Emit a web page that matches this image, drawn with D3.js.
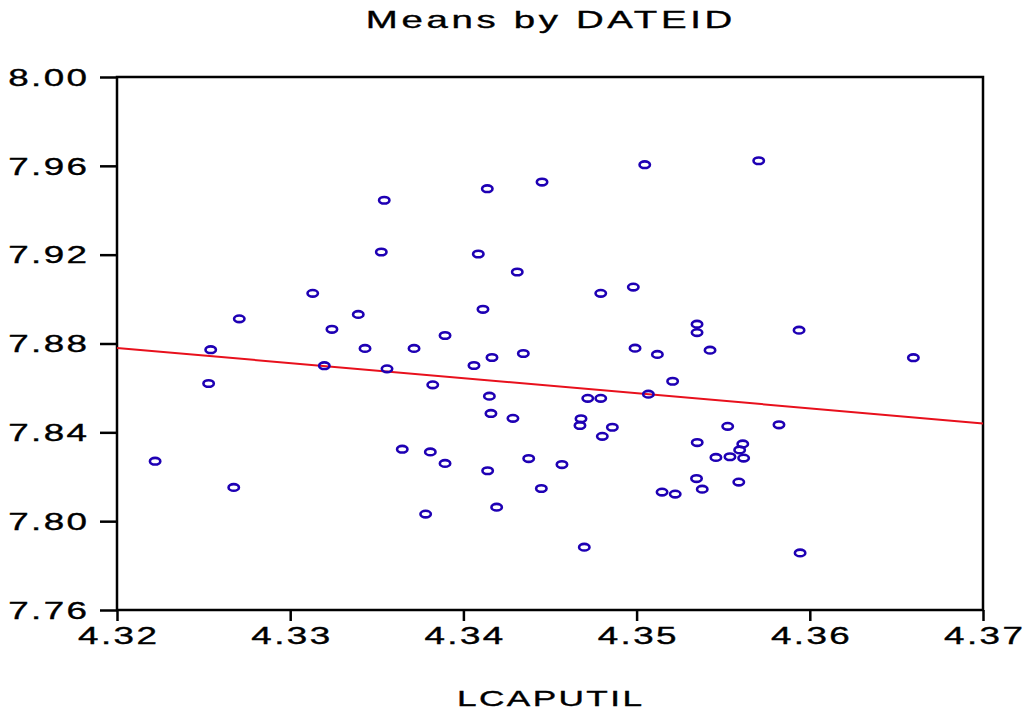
<!DOCTYPE html>
<html>
<head>
<meta charset="utf-8">
<script src="https://cdn.jsdelivr.net/npm/d3@7"></script>
<style>
  html, body { margin: 0; padding: 0; background: #ffffff; }
  svg { display: block; }
  text { font-family: "Liberation Sans", Arial, sans-serif; fill: #000; stroke: #000; stroke-width: 0.35px; }
</style>
</head>
<body>
<script>
// Group means of LCAPUTIL (x) and the response (y), one point per DATEID
const lcaputil = [
  4.3222, 4.32541, 4.32529, 4.32674, 4.32706, 4.33130, 4.33197, 4.33241, 4.33393, 4.33432,
  4.33543, 4.33526, 4.33559, 4.33647, 4.33715, 4.33782, 4.33809, 4.33823, 4.33894, 4.33894,
  4.34061, 4.34086, 4.34113, 4.34138, 4.34150, 4.34159, 4.34165, 4.34140, 4.34192, 4.34286,
  4.34311, 4.34346, 4.34377, 4.34454, 4.34450, 4.34569, 4.34679, 4.34673, 4.34698, 4.34718,
  4.34793, 4.34793, 4.34802, 4.34860, 4.34981, 4.34991, 4.35047, 4.35068, 4.35120, 4.35147,
  4.35208, 4.35223, 4.35349, 4.35349, 4.35350, 4.35346, 4.35379, 4.35424, 4.35458, 4.35526,
  4.35539, 4.35613, 4.35595, 4.35590, 4.35618, 4.35705, 4.35822, 4.35938, 4.35944, 4.36598
];
const meanValue = [
  7.8270, 7.8772, 7.8620, 7.8152, 7.8911, 7.9026, 7.8700, 7.8864, 7.8931, 7.8778,
  7.9445, 7.9212, 7.8686, 7.8324, 7.8778, 7.8032, 7.8312, 7.8614, 7.8836, 7.8260,
  7.8701, 7.9203, 7.8954, 7.9497, 7.8563, 7.8485, 7.8737, 7.8227, 7.8063, 7.8463,
  7.9122, 7.8755, 7.8282, 7.9527, 7.8147, 7.8255, 7.8461, 7.8431, 7.7883, 7.8553,
  7.9026, 7.8553, 7.8382, 7.8423, 7.9054, 7.8779, 7.9605, 7.8572, 7.8751, 7.8131,
  7.8630, 7.8122, 7.8887, 7.8849, 7.8354, 7.8192, 7.8144, 7.8770, 7.8287, 7.8427,
  7.8290, 7.8348, 7.8321, 7.8176, 7.8284, 7.9623, 7.8434, 7.8860, 7.7857, 7.8736
];

// Least-squares fit line, evaluated at the ends of the x range
const fitX = [4.32, 4.37];
const fitY = [7.878, 7.844];

const xTicks = [4.32, 4.33, 4.34, 4.35, 4.36, 4.37];
const yTicks = [7.76, 7.80, 7.84, 7.88, 7.92, 7.96, 8.00];

const titleText = "Means by DATEID";
const xLabelText = "LCAPUTIL";

const W = 1026, H = 715;
const plotLeft = 117, plotRight = 983, plotTop = 77, plotBottom = 610;
const SX = 1.6;          // horizontal stretch of the lettering

const svg = d3.select("body").append("svg")
  .attr("width", W).attr("height", H);

const x = d3.scaleLinear().domain([4.32, 4.37]).range([plotLeft, plotRight]);
const y = d3.scaleLinear().domain([7.76, 8.00]).range([plotBottom, plotTop]);

// stretched, spaced lettering
function styleText(sel, size, spacing) {
  sel.style("font-size", size + "px")
     .style("letter-spacing", spacing + "px");
}

// frame
svg.append("rect")
  .attr("x", plotLeft).attr("y", plotTop)
  .attr("width", plotRight - plotLeft).attr("height", plotBottom - plotTop)
  .attr("fill", "none").attr("stroke", "#000").attr("stroke-width", 2.5);

// y axis
const yAxis = svg.append("g")
  .attr("transform", `translate(${plotLeft},0)`)
  .call(d3.axisLeft(y).tickValues(yTicks).tickSize(17).tickPadding(0)
        .tickFormat(d3.format(".2f")));
yAxis.select(".domain").remove();
yAxis.selectAll(".tick line").attr("stroke", "#000").attr("stroke-width", 2.5);
yAxis.selectAll(".tick text")
  .attr("x", -30 / SX).attr("dx", 1.5).attr("dy", "0.36em")
  .attr("transform", `scale(${SX},1)`)
  .call(styleText, 23, 1.5);

// x axis
const xAxis = svg.append("g")
  .attr("transform", `translate(0,${plotBottom})`)
  .call(d3.axisBottom(x).tickValues(xTicks).tickSize(11).tickPadding(0)
        .tickFormat(d3.format(".2f")));
xAxis.select(".domain").remove();
xAxis.selectAll(".tick line").attr("stroke", "#000").attr("stroke-width", 2.5);
xAxis.selectAll(".tick text")
  .attr("y", 34).attr("dy", 0).attr("dx", 0.75)
  .attr("transform", `scale(${SX},1)`)
  .call(styleText, 23, 1.5);

// fitted line
svg.append("line")
  .attr("x1", x(fitX[0])).attr("y1", y(fitY[0]))
  .attr("x2", x(fitX[1])).attr("y2", y(fitY[1]))
  .attr("stroke", "#e8101c").attr("stroke-width", 2);

// points
svg.append("g").selectAll("ellipse")
  .data(d3.zip(lcaputil, meanValue))
  .join("ellipse")
  .attr("cx", d => x(d[0])).attr("cy", d => y(d[1]))
  .attr("rx", 5.2).attr("ry", 3.3)
  .attr("fill", "none").attr("stroke", "#1e00b4").attr("stroke-width", 2.6);

// title
svg.append("text")
  .attr("transform", `translate(549,28) scale(${SX},1)`)
  .attr("text-anchor", "middle").attr("dx", 1.15)
  .text(titleText)
  .call(styleText, 24, 2.3);

// x label
svg.append("text")
  .attr("transform", `translate(549.5,706) scale(${SX},1)`)
  .attr("text-anchor", "middle").attr("dx", 0.75)
  .text(xLabelText)
  .call(styleText, 22, 1.5);
</script>
</body>
</html>
